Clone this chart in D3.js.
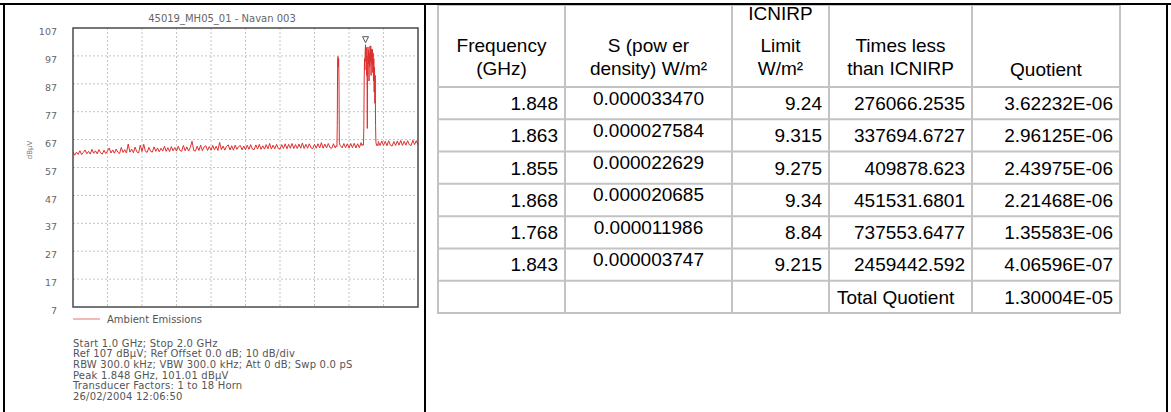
<!DOCTYPE html>
<html>
<head>
<meta charset="utf-8">
<script src="https://cdn.jsdelivr.net/npm/d3@7"></script>
<style>
    body { margin: 0; background: #fff; }
    svg { display: block; }
</style>
</head>
<body>
<div id="chart"></div>
<script>
// Spectrum trace (5 MHz sweep steps from 1.0 GHz), dBuV
const sweepStart = 1.0;
const sweepStep = 0.005;
const sweepLevels = [
    62.6, 61.4, 62.5, 61.7, 63.0, 61.6, 62.4, 63.3, 61.9, 62.8, 61.8, 63.5, 62.1, 63.0, 61.9, 63.4, 62.3, 61.8, 63.2, 62.0,
    62.9, 64.0, 62.2, 63.3, 62.1, 63.6, 62.5, 62.0, 64.2, 62.4, 63.4, 62.2, 65.4, 62.5, 63.6, 62.3, 64.3, 62.6, 62.2, 65.0,
    62.7, 65.3, 62.8, 62.4, 64.2, 62.8, 62.5, 64.4, 62.8, 64.0, 62.6, 63.9, 62.9, 64.6, 62.8, 64.1, 62.7, 64.5, 63.0, 64.2,
    62.9, 64.6, 63.1, 62.8, 64.9, 63.0, 64.4, 62.9, 64.2, 66.4, 63.1, 62.9, 64.6, 63.1, 65.0, 63.0, 64.4, 64.8, 63.1, 64.5,
    63.2, 64.9, 63.3, 64.6, 63.1, 66.0, 63.4, 64.7, 63.2, 64.6, 65.1, 63.3, 64.8, 63.2, 65.0, 63.5, 64.5, 64.9, 63.3, 64.7,
    63.4, 65.0, 63.5, 65.2, 63.6, 63.4, 65.1, 63.6, 65.3, 63.5, 64.8, 63.6, 65.2, 63.7, 65.6, 63.6, 65.0, 63.7, 65.3, 63.8,
    63.6, 65.2, 63.8, 65.5, 63.7, 65.3, 63.9, 65.6, 63.8, 65.2, 63.8, 65.4, 63.9, 65.8, 63.8, 65.3, 63.9, 65.5, 64.0, 63.8,
    65.3, 63.9, 65.5, 64.0, 65.9, 63.9, 65.4, 64.0, 65.6, 64.1, 63.9, 65.5, 64.0, 65.7, 64.1, 65.5, 64.0, 65.6, 64.1, 65.5,
    64.0, 65.6, 64.1, 65.7, 64.0, 65.5, 64.1, 65.9, 64.2, 65.6, 64.1, 65.5, 64.2, 65.6, 64.1, 65.5, 65.8, 66.3, 64.9, 66.5,
    64.9, 66.4, 64.8, 66.6, 65.0, 64.7, 66.3, 64.9, 66.5, 65.0, 66.7, 64.9, 66.4, 65.0, 66.6, 65.1, 64.9, 66.8, 65.2, 66.6,
    65.1
];
// finer points around the emissions [GHz, dBuV]
const spike1768 = [
    [1.763, 64.8], [1.765, 64.5], [1.766, 72], [1.767, 95.5], [1.768, 96.8], [1.769, 93],
    [1.770, 96], [1.771, 88], [1.772, 66], [1.774, 64.9], [1.777, 64.6]
];
const cluster1848 = [
    [1.838, 64.8], [1.840, 65.3], [1.842, 65.0], [1.843, 72], [1.844, 88], [1.845, 96], [1.846, 92],
    [1.847, 99], [1.848, 101.01], [1.849, 95], [1.850, 100], [1.851, 90], [1.852, 97], [1.853, 71],
    [1.854, 92], [1.855, 100.2], [1.856, 94], [1.857, 99], [1.858, 88], [1.859, 98], [1.860, 93],
    [1.861, 100.5], [1.862, 95], [1.863, 100.6], [1.864, 90], [1.865, 99.5], [1.866, 94], [1.867, 98],
    [1.868, 99.3], [1.869, 91], [1.870, 98], [1.871, 88], [1.872, 96], [1.873, 84], [1.874, 93],
    [1.875, 80], [1.876, 90], [1.877, 72], [1.878, 66], [1.880, 64.9], [1.882, 65.3], [1.884, 64.8]
];
const peakMarker = [1.848, 101.01];
const yTicks = [107, 97, 87, 77, 67, 57, 47, 37, 27, 17, 7];
const chartTitle = '45019_MH05_01 - Navan 003';
const legendLabel = 'Ambient Emissions';
const infoLines = [
    'Start 1.0 GHz; Stop 2.0 GHz',
    'Ref 107 dBµV; Ref Offset 0.0 dB; 10 dB/div',
    'RBW 300.0 kHz; VBW 300.0 kHz; Att 0 dB; Swp 0.0 pS',
    'Peak 1.848 GHz, 101.01 dBµV',
    'Transducer Factors: 1 to 18 Horn',
    '26/02/2004 12:06:50'
];

// Table
const headers = [
    ['Frequency', '(GHz)'],
    ['S (pow er', 'density) W/m²'],
    ['ICNIRP', 'Limit', 'W/m²'],
    ['Times less', 'than ICNIRP'],
    ['Quotient']
];
const freqGHz = [1.848, 1.863, 1.855, 1.868, 1.768, 1.843];
const powerDensity = [0.000033470, 0.000027584, 0.000022629, 0.000020685, 0.000011986, 0.000003747];
const icnirpLimit = [9.24, 9.315, 9.275, 9.34, 8.84, 9.215];
const timesLess = [276066.2535, 337694.6727, 409878.623, 451531.6801, 737553.6477, 2459442.592];
const quotient = [3.62232e-6, 2.96125e-6, 2.43975e-6, 2.21468e-6, 1.35583e-6, 4.06596e-7];
const totalLabel = 'Total Quotient';
const totalQuotient = 1.30004e-5;

function draw() {
    const dimensions = {
        width: 1171,
        height: 412,
        plot: { left: 73, top: 28, right: 418, bottom: 307 },
        divider: 425
    };

    const svg = d3.select('#chart')
        .append('svg')
        .attr('width', dimensions.width)
        .attr('height', dimensions.height)
        .style('background', '#fff');

    // ---------- spectrum plot ----------
    const xScale = d3.scaleLinear()
        .domain([1.0, 2.0])
        .range([dimensions.plot.left, dimensions.plot.right]);
    const yScale = d3.scaleLinear()
        .domain([7, 107])
        .range([dimensions.plot.bottom, dimensions.plot.top]);

    const chart = svg.append('g')
        .style('font-family', '"DejaVu Sans", Verdana, sans-serif');

    chart.append('text')
        .attr('x', 222)
        .attr('y', 21.5)
        .attr('text-anchor', 'middle')
        .attr('fill', '#666')
        .style('font-size', '10px')
        .text(chartTitle);

    // dotted grid
    chart.append('g')
        .selectAll('line')
        .data(yTicks.slice(1, -1))
        .join('line')
        .attr('x1', dimensions.plot.left)
        .attr('x2', dimensions.plot.right)
        .attr('y1', d => yScale(d))
        .attr('y2', d => yScale(d))
        .attr('stroke', '#c4c4c4')
        .attr('stroke-dasharray', '2,2');
    chart.append('g')
        .selectAll('line')
        .data(xScale.ticks(10).slice(1, -1))
        .join('line')
        .attr('x1', d => xScale(d))
        .attr('x2', d => xScale(d))
        .attr('y1', dimensions.plot.top)
        .attr('y2', dimensions.plot.bottom)
        .attr('stroke', '#c4c4c4')
        .attr('stroke-dasharray', '2,2');

    const yAxis = d3.axisLeft(yScale)
        .tickValues(yTicks)
        .tickSize(0)
        .tickPadding(16);
    const yAxisGroup = chart.append('g')
        .attr('transform', `translate(${dimensions.plot.left}, 0)`)
        .call(yAxis);
    yAxisGroup.select('.domain').remove();
    yAxisGroup.selectAll('text')
        .attr('dy', '0.7em')
        .attr('fill', '#666')
        .style('font-family', '"DejaVu Sans", Verdana, sans-serif')
        .style('font-size', '9.5px');

    chart.append('text')
        .attr('transform', 'translate(32, 150) rotate(-90)')
        .attr('text-anchor', 'middle')
        .attr('fill', '#777')
        .style('font-size', '7px')
        .text('dBµV');

    // trace: baseline sweep, replaced by the finer points where the emissions are
    const inside = (f, pts) => f >= pts[0][0] && f <= pts[pts.length - 1][0];
    const trace = sweepLevels
        .map((v, i) => [+(sweepStart + i * sweepStep).toFixed(3), v])
        .filter(d => !inside(d[0], spike1768) && !inside(d[0], cluster1848))
        .concat(spike1768, cluster1848)
        .sort((a, b) => a[0] - b[0]);

    const line = d3.line()
        .x(d => xScale(d[0]))
        .y(d => yScale(d[1]));
    chart.append('path')
        .datum(trace)
        .attr('d', line)
        .attr('fill', 'none')
        .attr('stroke', '#de2f2f')
        .attr('stroke-width', 1)
        .attr('stroke-linejoin', 'round');

    // peak marker
    const mx = xScale(peakMarker[0]);
    const my = yScale(peakMarker[1]) - 5;
    chart.append('path')
        .attr('d', `M${mx - 3},${my - 3}L${mx + 3},${my - 3}L${mx},${my + 3}Z`)
        .attr('fill', '#fff')
        .attr('stroke', '#555')
        .attr('stroke-width', 1);

    chart.append('rect')
        .attr('x', dimensions.plot.left)
        .attr('y', dimensions.plot.top)
        .attr('width', dimensions.plot.right - dimensions.plot.left)
        .attr('height', dimensions.plot.bottom - dimensions.plot.top)
        .attr('fill', 'none')
        .attr('stroke', '#4a4a4a')
        .attr('stroke-width', 1.5);

    // legend
    chart.append('line')
        .attr('x1', 73).attr('x2', 100)
        .attr('y1', 319).attr('y2', 319)
        .attr('stroke', '#ec8a8a')
        .attr('stroke-width', 1.2);
    chart.append('text')
        .attr('x', 107)
        .attr('y', 322.5)
        .attr('fill', '#555')
        .style('font-size', '10px')
        .text(legendLabel);

    chart.append('g')
        .selectAll('text')
        .data(infoLines)
        .join('text')
        .attr('x', 73)
        .attr('y', (d, i) => 346.5 + i * 10.7)
        .attr('fill', '#555')
        .style('font-size', '10px')
        .style('letter-spacing', '0.2px')
        .text(d => d);

    // ---------- table ----------
    const colEdges = [438, 565, 732, 829, 972, 1120];
    const tableTop = 5;
    const rowY = d3.scaleLinear().domain([0, 7]).range([87, 313]);
    const table = svg.append('g')
        .style('font-family', '"Liberation Sans", Arial, sans-serif')
        .style('font-size', '19px')
        .attr('fill', '#000');

    const grid = table.append('g')
        .attr('stroke', '#c3c3c3')
        .attr('stroke-width', 2);
    grid.selectAll('.v')
        .data(colEdges)
        .join('line')
        .attr('x1', d => d).attr('x2', d => d)
        .attr('y1', tableTop).attr('y2', rowY(7));
    grid.selectAll('.h')
        .data([tableTop].concat(d3.range(8).map(i => rowY(i))))
        .join('line')
        .attr('class', 'h')
        .attr('x1', colEdges[0] - 1).attr('x2', colEdges[colEdges.length - 1] + 1)
        .attr('y1', d => d).attr('y2', d => d);

    const mid = i => (colEdges[i] + colEdges[i + 1]) / 2;
    const right = i => colEdges[i + 1] - 7;
    const headerBaselines = [20, 52, 75];
    headers.forEach((lines, c) => {
        lines.forEach((t, k) => {
            table.append('text')
                .attr('x', mid(c))
                .attr('y', headerBaselines[3 - lines.length + k] + (lines.length === 1 ? 1 : 0))
                .attr('text-anchor', 'middle')
                .text(t);
        });
    });

    const fmtExp = v => {
        const [m, e] = v.toExponential(5).split('e');
        const n = Math.abs(+e);
        return `${m}E${+e < 0 ? '-' : '+'}${n < 10 ? '0' + n : n}`;
    };

    const rows = freqGHz.map((f, i) => [
        String(f), powerDensity[i].toFixed(9), String(icnirpLimit[i]),
        String(timesLess[i]), fmtExp(quotient[i])
    ]);
    rows.forEach((cells, r) => {
        const top = rowY(r);
        cells.forEach((t, c) => {
            table.append('text')
                .attr('x', c === 1 ? mid(c) : right(c))
                .attr('y', top + (c === 1 ? 17.5 : 23))
                .attr('text-anchor', c === 1 ? 'middle' : 'end')
                .text(t);
        });
    });
    table.append('text')
        .attr('x', colEdges[3] + 8)
        .attr('y', rowY(6) + 23)
        .text(totalLabel);
    table.append('text')
        .attr('x', right(4))
        .attr('y', rowY(6) + 23)
        .attr('text-anchor', 'end')
        .text(fmtExp(totalQuotient));

    // ---------- frame ----------
    const frame = svg.append('g')
        .attr('stroke', '#000')
        .attr('stroke-width', 2);
    frame.append('line').attr('x1', 0).attr('x2', dimensions.width).attr('y1', 4).attr('y2', 4);
    [4, dimensions.divider, 1167].forEach(x => {
        frame.append('line').attr('x1', x).attr('x2', x).attr('y1', 4).attr('y2', dimensions.height);
    });
}

draw();
</script>
</body>
</html>
